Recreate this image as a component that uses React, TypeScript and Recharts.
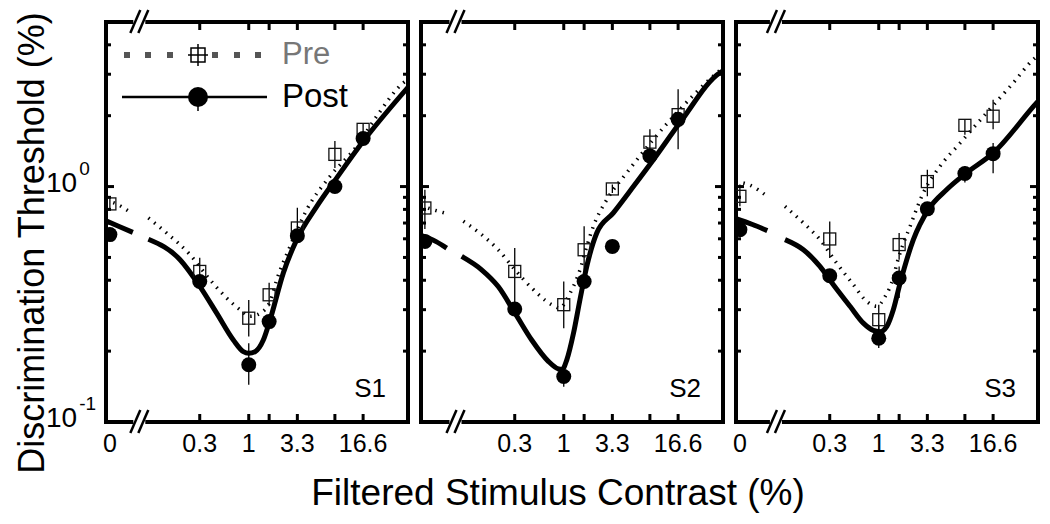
import { ComposedChart, ErrorBar, Legend, Line, ReferenceArea, Scatter, XAxis, YAxis } from 'recharts'

const FONT = '"Liberation Sans", Arial, Helvetica, sans-serif'

// contrast levels (%); the 0 level sits left of the axis break
const CONTRASTS = [0, 0.3, 1, 1.65, 3.3, 8.3, 16.6]
const ZERO_POS = 0.033
const X_DOMAIN = [0.03, 50]
const Y_DOMAIN = [0.1, 5]
const X_TICKS = [0.3, 1, 1.65, 3.3, 8.3, 16.6]
const X_LABELS: Record<string, string> = { '0.3': '0.3', '1': '1', '3.3': '3.3', '16.6': '16.6' }
const Y_TICKS = [0.1, 0.2, 0.3, 0.4, 0.5, 0.6, 0.7, 0.8, 0.9, 1, 2, 3, 4]

// thresholds (%) read per subject
const S1_PRE = [0.844, 0.436, 0.276, 0.347, 0.667, 1.37, 1.75]
const S1_PRE_LO = [0.8, 0.39, 0.231, 0.31, 0.614, 1.2, 1.65]
const S1_PRE_HI = [0.89, 0.499, 0.33, 0.39, 0.812, 1.56, 1.85]
const S1_POST = [0.625, 0.395, 0.175, 0.267, 0.618, 1.0, 1.6]
const S1_POST_LO = [0.6, 0.38, 0.144, 0.255, 0.59, 0.97, 1.55]
const S1_POST_HI = [0.65, 0.41, 0.216, 0.28, 0.65, 1.03, 1.65]

const S2_PRE = [0.811, 0.436, 0.315, 0.539, 0.977, 1.544, 2.02]
const S2_PRE_LO = [0.66, 0.32, 0.25, 0.389, 0.94, 1.37, 1.44]
const S2_PRE_HI = [0.97, 0.548, 0.395, 0.678, 1.02, 1.75, 2.59]
const S2_POST = [0.585, 0.302, 0.156, 0.395, 0.557, 1.35, 1.93]
const S2_POST_LO = [0.56, 0.29, 0.141, 0.38, 0.53, 1.3, 1.86]
const S2_POST_HI = [0.61, 0.315, 0.165, 0.41, 0.58, 1.4, 2.0]

const S3_PRE = [0.909, 0.599, 0.272, 0.567, 1.05, 1.82, 1.99]
const S3_PRE_LO = [0.824, 0.497, 0.246, 0.489, 0.909, 1.66, 1.75]
const S3_PRE_HI = [1.02, 0.711, 0.315, 0.635, 1.18, 1.93, 2.34]
const S3_POST = [0.656, 0.418, 0.227, 0.409, 0.804, 1.136, 1.38]
const S3_POST_LO = [0.62, 0.4, 0.206, 0.336, 0.77, 1.04, 1.14]
const S3_POST_HI = [0.69, 0.44, 0.259, 0.458, 0.84, 1.22, 1.53]

// fitted curves [contrast, threshold], split at the axis break
const S1_PRE_FIT_L: [number, number][] = [[0.03, 0.87], [0.0356, 0.855], [0.0528, 0.785]]
const S1_PRE_FIT_R: [number, number][] = [
  [0.085, 0.736], [0.133, 0.635], [0.236, 0.514], [0.386, 0.402], [0.582, 0.336], [0.807, 0.3],
  [1.03, 0.281], [1.42, 0.295], [1.69, 0.325], [1.99, 0.402], [2.76, 0.557], [4.16, 0.798],
  [7.37, 1.106], [14.2, 1.484], [23.2, 1.99], [44.7, 2.76], [50, 2.85],
]
const S1_POST_FIT_L: [number, number][] = [[0.03, 0.715], [0.042, 0.675], [0.058, 0.639]]
const S1_POST_FIT_R: [number, number][] = [
  [0.085, 0.597], [0.185, 0.489], [0.302, 0.376], [0.455, 0.29], [0.685, 0.223], [0.876, 0.199],
  [1.0, 0.196], [1.167, 0.199], [1.43, 0.223], [1.69, 0.272], [2.34, 0.43], [3.25, 0.595],
  [5.32, 0.824], [8.69, 1.089], [16.7, 1.56], [50, 2.64],
]

const S2_PRE_FIT_L: [number, number][] = [[0.03, 0.83], [0.0403, 0.798], [0.0532, 0.773]]
const S2_PRE_FIT_R: [number, number][] = [
  [0.085, 0.712], [0.133, 0.625], [0.2, 0.539], [0.302, 0.443], [0.455, 0.371], [0.745, 0.315],
  [0.9, 0.305], [1.17, 0.353], [1.49, 0.443], [1.76, 0.557], [2.07, 0.678], [2.88, 0.88],
  [4.7, 1.144], [9.04, 1.585], [17.4, 2.13], [39.5, 2.95], [50, 3.2],
]
const S2_POST_FIT_L: [number, number][] = [[0.03, 0.62], [0.043, 0.585], [0.0564, 0.548]]
const S2_POST_FIT_R: [number, number][] = [
  [0.0815, 0.505], [0.133, 0.443], [0.2, 0.376], [0.302, 0.29], [0.455, 0.223], [0.685, 0.181],
  [0.875, 0.168], [0.96, 0.167], [1.08, 0.184], [1.27, 0.238], [1.49, 0.331], [1.76, 0.458],
  [2.25, 0.635], [3.38, 0.773], [5.53, 1.0], [9.04, 1.3], [17.4, 1.87], [46.6, 3.05], [50, 3.1],
]

const S3_PRE_FIT_L: [number, number][] = [[0.03, 1.05], [0.0406, 1.02], [0.0647, 0.909]]
const S3_PRE_FIT_R: [number, number][] = [
  [0.1, 0.824], [0.157, 0.701], [0.236, 0.595], [0.356, 0.473], [0.536, 0.383], [0.745, 0.325],
  [0.952, 0.31], [1.17, 0.341], [1.43, 0.41], [1.56, 0.47], [2.16, 0.678], [2.99, 0.94],
  [4.51, 1.22], [7.38, 1.53], [14.2, 2.06], [27.3, 2.76], [44.7, 3.47], [50, 3.6],
]
const S3_POST_FIT_L: [number, number][] = [[0.03, 0.73], [0.045, 0.69], [0.0647, 0.65]]
const S3_POST_FIT_R: [number, number][] = [
  [0.1, 0.595], [0.157, 0.539], [0.236, 0.458], [0.328, 0.383], [0.494, 0.31], [0.685, 0.263],
  [0.875, 0.245], [1.03, 0.242], [1.22, 0.255], [1.43, 0.3], [1.69, 0.389], [2.34, 0.595],
  [3.38, 0.798], [5.32, 0.971], [8.55, 1.14], [16.7, 1.39], [48.5, 2.27], [50, 2.3],
]

const toPoints = (vals: number[], lo: number[], hi: number[]) =>
  CONTRASTS.map((c, i) => ({
    c: c === 0 ? ZERO_POS : c,
    t: vals[i],
    err: [vals[i] - lo[i], hi[i] - vals[i]],
  }))

const toCurve = (pts: [number, number][]) => pts.map(([c, t]) => ({ c, t }))

const PANELS = [
  {
    name: 'S1', left: 106, brk: 0.068, showZero: true, yLabels: true, legend: true,
    pre: toPoints(S1_PRE, S1_PRE_LO, S1_PRE_HI), post: toPoints(S1_POST, S1_POST_LO, S1_POST_HI),
    preFit: [S1_PRE_FIT_L, S1_PRE_FIT_R], postFit: [S1_POST_FIT_L, S1_POST_FIT_R],
  },
  {
    name: 'S2', left: 421, brk: 0.07, showZero: false, yLabels: false, legend: false,
    pre: toPoints(S2_PRE, S2_PRE_LO, S2_PRE_HI), post: toPoints(S2_POST, S2_POST_LO, S2_POST_HI),
    preFit: [S2_PRE_FIT_L, S2_PRE_FIT_R], postFit: [S2_POST_FIT_L, S2_POST_FIT_R],
  },
  {
    name: 'S3', left: 736, brk: 0.08, showZero: true, yLabels: false, legend: false,
    pre: toPoints(S3_PRE, S3_PRE_LO, S3_PRE_HI), post: toPoints(S3_POST, S3_POST_LO, S3_POST_HI),
    preFit: [S3_PRE_FIT_L, S3_PRE_FIT_R], postFit: [S3_POST_FIT_L, S3_POST_FIT_R],
  },
]

const PLOT_W = 302
const GAP = 6
// axes get a 1px band: recharts skips drawing ticks of a zero-sized axis
const AX = 1

const BreakMark = ({ x, y }: { x: number; y: number }) => (
  <g stroke="#000" strokeWidth={2.5}>
    <line x1={x - 9} y1={y + 11} x2={x + 1} y2={y - 12} />
    <line x1={x - 1} y1={y + 11} x2={x + 9} y2={y - 12} />
  </g>
)

const FrameLeft = ({ x, y, width, height }: any) => {
  const bx = x + width
  return (
    <g>
      <path d={`M${bx - GAP},${y} H${x} V${y + height} H${bx - GAP}`} stroke="#000" strokeWidth={4} fill="none" />
      <BreakMark x={bx} y={y} />
      <BreakMark x={bx} y={y + height} />
    </g>
  )
}

const FrameRight = ({ x, y, width, height, name }: any) => (
  <g>
    <path d={`M${x + GAP},${y} H${x + width} V${y + height} H${x + GAP}`} stroke="#000" strokeWidth={4} fill="none" />
    <text x={x + width - 22} y={y + height - 25} textAnchor="end" fontSize={26} fontFamily={FONT} fill="#000">
      {name}
    </text>
  </g>
)

const BottomTick = ({ x, y, payload, showZero }: any) => {
  const v = payload.value
  const isZero = v === ZERO_POS
  const label = isZero ? (showZero ? '0' : '') : X_LABELS[String(v)] ?? ''
  return (
    <g>
      {!isZero && <line x1={x} x2={x} y1={y} y2={y - 8} stroke="#000" strokeWidth={3} />}
      {label && (
        <text x={x} y={y + 30} textAnchor="middle" fontSize={25} fontFamily={FONT} fill="#000">
          {label}
        </text>
      )}
    </g>
  )
}

const TopTick = ({ x, y }: any) => <line x1={x} x2={x} y1={y} y2={y + 8} stroke="#000" strokeWidth={3} />

const isMajor = (v: number) => v === 0.1 || v === 1

const LeftTick = ({ x, y, payload, showLabels }: any) => {
  const v = payload.value
  return (
    <g>
      <line x1={x} x2={x + (isMajor(v) ? 8 : 5)} y1={y} y2={y} stroke="#000" strokeWidth={3} />
      {showLabels && isMajor(v) && (
        <text x={x - 60} y={y + 5} fontSize={28} fontFamily={FONT} fill="#000">
          10
          <tspan dx={2} dy={-17} fontSize={19}>
            {v === 1 ? '0' : '-1'}
          </tspan>
        </text>
      )}
    </g>
  )
}

const RightTick = ({ x, y, payload }: any) => (
  <line x1={x} x2={x - (isMajor(payload.value) ? 8 : 5)} y1={y} y2={y} stroke="#000" strokeWidth={3} />
)

const SquareMark = ({ cx, cy }: any) => (
  <rect x={cx - 6} y={cy - 6} width={12} height={12} fill="none" stroke="#111" strokeWidth={1.3} />
)

const CircleMark = ({ cx, cy }: any) => <circle cx={cx} cy={cy} r={7.5} fill="#000" />

const LEGEND_DOTS = [17, 38, 60, 105, 127, 148]

const LegendBox = () => (
  <svg width={270} height={90} style={{ display: 'block' }}>
    {LEGEND_DOTS.map((dx) => (
      <rect key={dx} x={dx - 3} y={22} width={6} height={6} fill="#555" />
    ))}
    <rect x={81} y={18} width={14} height={14} fill="#fff" stroke="#000" strokeWidth={1.5} />
    <line x1={78} x2={98} y1={25} y2={25} stroke="#000" strokeWidth={1.5} />
    <line x1={88} x2={88} y1={14} y2={36} stroke="#000" strokeWidth={1.5} />
    <text x={172} y={34} fontSize={31} fontFamily={FONT} fill="#777">
      Pre
    </text>
    <line x1={12} x2={157} y1={67} y2={67} stroke="#000" strokeWidth={2.5} />
    <line x1={88} x2={88} y1={67} y2={81} stroke="#000" strokeWidth={1.5} />
    <circle cx={88} cy={67} r={10} fill="#000" />
    <text x={172} y={77} fontSize={33} fontFamily={FONT} fill="#000">
      Post
    </text>
  </svg>
)

const Panel = ({ cfg }: { cfg: (typeof PANELS)[number] }) => {
  const right = 1050 - cfg.left - PLOT_W - AX
  const bottomTicks = cfg.showZero ? [ZERO_POS, ...X_TICKS] : X_TICKS
  return (
    <div style={{ position: 'absolute', left: 0, top: 0 }}>
      <ComposedChart
        width={1050}
        height={524}
        margin={{ top: 22 - AX, right, bottom: 102 - AX, left: cfg.left - AX }}
      >
        <XAxis
          xAxisId="b"
          dataKey="c"
          type="number"
          scale="log"
          domain={X_DOMAIN}
          allowDataOverflow
          ticks={bottomTicks}
          interval={0}
          height={AX}
          tickSize={0}
          tickMargin={0}
          axisLine={false}
          tickLine={false}
          tick={(p: any) => <BottomTick {...p} showZero={cfg.showZero} />}
        />
        <XAxis
          xAxisId="t"
          orientation="top"
          dataKey="c"
          type="number"
          scale="log"
          domain={X_DOMAIN}
          allowDataOverflow
          ticks={X_TICKS}
          interval={0}
          height={AX}
          tickSize={0}
          tickMargin={0}
          axisLine={false}
          tickLine={false}
          tick={(p: any) => <TopTick {...p} />}
        />
        <YAxis
          yAxisId="l"
          dataKey="t"
          type="number"
          scale="log"
          domain={Y_DOMAIN}
          allowDataOverflow
          ticks={Y_TICKS}
          interval={0}
          width={AX}
          tickSize={0}
          tickMargin={0}
          axisLine={false}
          tickLine={false}
          tick={(p: any) => <LeftTick {...p} showLabels={cfg.yLabels} />}
        />
        <YAxis
          yAxisId="r"
          orientation="right"
          dataKey="t"
          type="number"
          scale="log"
          domain={Y_DOMAIN}
          allowDataOverflow
          ticks={Y_TICKS}
          interval={0}
          width={AX}
          tickSize={0}
          tickMargin={0}
          axisLine={false}
          tickLine={false}
          tick={(p: any) => <RightTick {...p} />}
        />
        <ReferenceArea
          xAxisId="b"
          yAxisId="l"
          x1={X_DOMAIN[0]}
          x2={cfg.brk}
          y1={Y_DOMAIN[0]}
          y2={Y_DOMAIN[1]}
          ifOverflow="visible"
          shape={(p: any) => <FrameLeft {...p} />}
        />
        <ReferenceArea
          xAxisId="b"
          yAxisId="l"
          x1={cfg.brk}
          x2={X_DOMAIN[1]}
          y1={Y_DOMAIN[0]}
          y2={Y_DOMAIN[1]}
          ifOverflow="visible"
          shape={(p: any) => <FrameRight {...p} name={cfg.name} />}
        />
        {cfg.preFit.map((seg, i) => (
          <Line
            key={`pre-${i}`}
            xAxisId="b"
            yAxisId="l"
            data={toCurve(seg)}
            dataKey="t"
            type="monotone"
            dot={false}
            stroke="#000"
            strokeWidth={3.5}
            strokeDasharray="1.5 6"
            isAnimationActive={false}
          />
        ))}
        {cfg.postFit.map((seg, i) => (
          <Line
            key={`post-${i}`}
            xAxisId="b"
            yAxisId="l"
            data={toCurve(seg)}
            dataKey="t"
            type="monotone"
            dot={false}
            stroke="#000"
            strokeWidth={5}
            isAnimationActive={false}
          />
        ))}
        <Scatter xAxisId="t" yAxisId="r" data={cfg.pre} dataKey="t" shape={SquareMark} isAnimationActive={false}>
          <ErrorBar dataKey="err" direction="y" width={0} stroke="#000" strokeWidth={1.3} isAnimationActive={false} />
        </Scatter>
        <Scatter xAxisId="t" yAxisId="r" data={cfg.post} dataKey="t" shape={CircleMark} isAnimationActive={false}>
          <ErrorBar dataKey="err" direction="y" width={0} stroke="#000" strokeWidth={1.3} isAnimationActive={false} />
        </Scatter>
        {cfg.legend && (
          <Legend
            verticalAlign="middle"
            align="center"
            layout="horizontal"
            wrapperStyle={{ top: 30, left: 110, width: 270, height: 90 }}
            content={() => <LegendBox />}
          />
        )}
      </ComposedChart>
    </div>
  )
}

const App = () => (
  <div style={{ position: 'absolute', left: 0, top: 0, width: 1050, height: 524, background: '#fff' }}>
    {PANELS.map((cfg) => (
      <Panel key={cfg.name} cfg={cfg} />
    ))}
    <svg width={1050} height={524} style={{ position: 'absolute', left: 0, top: 0, pointerEvents: 'none' }}>
      <text x={558} y={505} textAnchor="middle" fontSize={37} fontFamily={FONT} fill="#000">
        Filtered Stimulus Contrast (%)
      </text>
      <text transform="translate(44,243) rotate(-90)" textAnchor="middle" fontSize={36} fontFamily={FONT} fill="#000">
        Discrimination Threshold (%)
      </text>
    </svg>
  </div>
)

export default App
